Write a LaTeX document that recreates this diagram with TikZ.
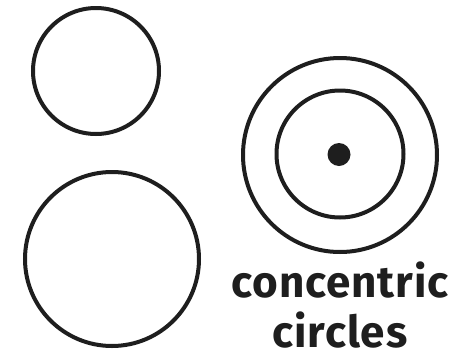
\documentclass[tikz,border=0pt]{standalone}
\usepackage{fontspec}
\setmainfont[LetterSpace=2]{Fira Sans}
\begin{document}
\begin{tikzpicture}[x=1pt,y=-1pt,
  ring/.style={draw=ink,line width=4pt},
  lbl/.style={font=\bfseries\fontsize{44}{50}\selectfont,text=ink,inner sep=0pt,anchor=base}]
\definecolor{ink}{HTML}{1E1E1E}
\useasboundingbox (0,0) rectangle (456,357);
\draw[ring] (96,71) circle (63);
\draw[ring] (112,259) circle (87);
\draw[ring] (340,155) circle (97);
\draw[ring] (340,154) circle (63.5);
\fill[ink] (339,154.5) circle (11.5);
\node[lbl] (l1) at (340,297) {concentric};
\node[lbl] (l2) at (340,347) {circles};
\end{tikzpicture}
\end{document}
